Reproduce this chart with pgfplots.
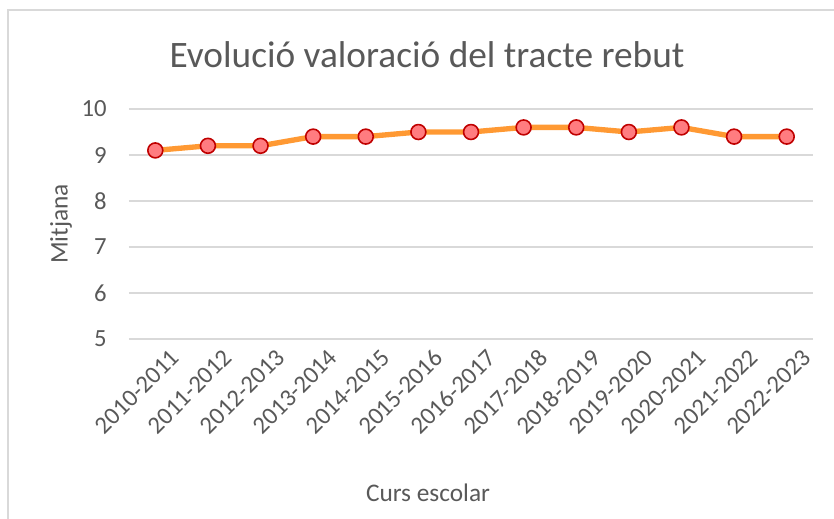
\documentclass[border=0pt]{standalone}
\usepackage{fontspec}
\setmainfont{Carlito}
\usepackage{pgfplots}
\pgfplotsset{compat=1.18}
\definecolor{txt}{HTML}{595959}
\definecolor{grd}{HTML}{D9D9D9}
\definecolor{lin}{HTML}{FF9933}
\definecolor{mfill}{HTML}{FF7C80}
\definecolor{medge}{HTML}{C00000}
\begin{document}
\begin{tikzpicture}
\useasboundingbox (-96.75pt,-134.25pt) rectangle (528.75pt,254.25pt);
\draw[grd, line width=1.1pt] (-90.75pt,-140pt) -- (-90.75pt,246.75pt) -- (535pt,246.75pt);
\begin{axis}[
  at={(0pt,0pt)}, anchor=south west,
  scale only axis, width=513pt, height=172.5pt,
  xmin=-0.5, xmax=12.5, ymin=5, ymax=10,
  ytick={5,6,7,8,9,10},
  xtick={0,...,12},
  xticklabels={2010-2011,2011-2012,2012-2013,2013-2014,2014-2015,2015-2016,2016-2017,2017-2018,2018-2019,2019-2020,2020-2021,2021-2022,2022-2023},
  axis line style={draw=none},
  major tick length=0pt,
  ymajorgrids, grid style={grd, line width=1.1pt},
  /pgf/number format/assume math mode=true,
  tick label style={font=\fontsize{18.5}{20}\selectfont, text=txt, inner sep=0pt},
  yticklabel style={anchor=east, xshift=-16.5pt},
  xticklabel style={rotate=45, anchor=north east, xshift=3pt, yshift=-12pt},
  clip=false,
]
\addplot[lin, line width=4pt, line join=round, mark=*, mark size=5.6pt,
  mark options={fill=mfill, draw=medge, line width=1.2pt}]
  coordinates {(0,9.1) (1,9.2) (2,9.2) (3,9.4) (4,9.4) (5,9.5) (6,9.5) (7,9.6) (8,9.6) (9,9.5) (10,9.6) (11,9.4) (12,9.4)};
\end{axis}
\node[text=txt, font=\fontsize{28}{30}\selectfont] at (223.5pt,213pt) {Evolució valoració del tracte rebut};
\node[text=txt, font=\fontsize{19}{22}\selectfont, rotate=90] at (-51pt,86.25pt) {Mitjana};
\node[text=txt, font=\fontsize{19}{22}\selectfont] at (224.25pt,-115.5pt) {Curs escolar};
\end{tikzpicture}
\end{document}
